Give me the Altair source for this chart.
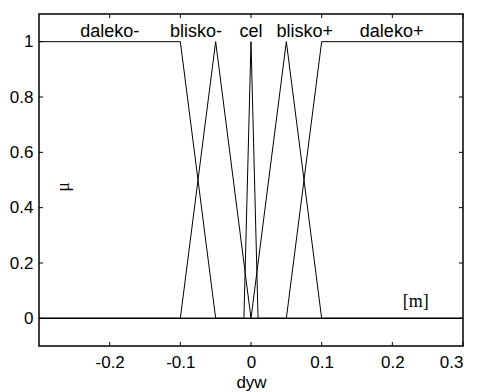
import altair as alt
import pandas as pd

# membership function vertices
x_daleko_minus = [-0.3, -0.1, -0.05, 0.3]
y_daleko_minus = [1, 1, 0, 0]
x_blisko_minus = [-0.3, -0.1, -0.05, 0.0, 0.3]
y_blisko_minus = [0, 0, 1, 0, 0]
x_cel = [-0.3, -0.01, 0.0, 0.01, 0.3]
y_cel = [0, 0, 1, 0, 0]
x_blisko_plus = [-0.3, 0.0, 0.05, 0.1, 0.3]
y_blisko_plus = [0, 0, 1, 0, 0]
x_daleko_plus = [-0.3, 0.05, 0.1, 0.3]
y_daleko_plus = [0, 0, 1, 1]

set_names = ["daleko-", "blisko-", "cel", "blisko+", "daleko+"]
label_x = [-0.2, -0.078, 0.0, 0.076, 0.199]
label_y = [1.018, 1.018, 1.018, 1.018, 1.018]

x_ticks = [-0.2, -0.1, 0, 0.1, 0.2, 0.3]
y_ticks = [0, 0.2, 0.4, 0.6, 0.8, 1]

W, H = 424, 332

rows = []
for name, xs, ys in [
    ("daleko-", x_daleko_minus, y_daleko_minus),
    ("blisko-", x_blisko_minus, y_blisko_minus),
    ("cel", x_cel, y_cel),
    ("blisko+", x_blisko_plus, y_blisko_plus),
    ("daleko+", x_daleko_plus, y_daleko_plus),
]:
    for i, (a, b) in enumerate(zip(xs, ys)):
        rows.append({"set": name, "x": a, "mu": b, "order": i})
df = pd.DataFrame(rows)

xscale = alt.Scale(domain=[-0.3, 0.3], nice=False, zero=False)
yscale = alt.Scale(domain=[-0.1, 1.1], nice=False, zero=False)
FONT = "Liberation Sans"

lines = alt.Chart(df).mark_line(color="black", strokeWidth=1).encode(
    x=alt.X("x:Q", scale=xscale,
            axis=alt.Axis(values=x_ticks, title="dyw", ticks=False, domain=False,
                          grid=False, labelFont=FONT, labelFontSize=17,
                          labelColor="black", labelPadding=8,
                          labelExpr="'' + datum.value",
                          titleFont=FONT, titleFontSize=17, titleFontWeight="normal",
                          titleColor="black", titlePadding=4)),
    y=alt.Y("mu:Q", scale=yscale,
            axis=alt.Axis(values=y_ticks, title=None, ticks=False, domain=False,
                          grid=False, labelFont=FONT, labelFontSize=17,
                          labelColor="black", labelPadding=6,
                          labelExpr="'' + datum.value")),
    detail="set:N",
    order="order:Q",
)

lab_df = pd.DataFrame({"name": set_names, "x": label_x, "y": label_y})
labels = alt.Chart(lab_df).mark_text(font=FONT, fontSize=18, color="black",
                                     baseline="alphabetic", align="center").encode(
    x=alt.X("x:Q", scale=xscale), y=alt.Y("y:Q", scale=yscale), text="name:N")

unit_df = pd.DataFrame({"t": ["[m]"], "x": [0.233], "y": [0.06]})
unit = alt.Chart(unit_df).mark_text(font="Liberation Serif", fontSize=18, color="black",
                                    baseline="middle", align="center").encode(
    x=alt.X("x:Q", scale=xscale), y=alt.Y("y:Q", scale=yscale), text="t:N")

mu_df = pd.DataFrame({"t": ["μ"], "x": [-0.265], "y": [0.475]})
mu = alt.Chart(mu_df).mark_text(font="Liberation Serif", fontSize=18, color="black",
                                baseline="middle", align="center", angle=270).encode(
    x=alt.X("x:Q", scale=xscale), y=alt.Y("y:Q", scale=yscale), text="t:N")

xt = pd.DataFrame({"v": x_ticks})
yt = pd.DataFrame({"v": y_ticks})
tb = alt.Chart(xt).mark_rule(color="black", strokeWidth=1).encode(
    x=alt.X("v:Q", scale=xscale), y=alt.value(H), y2=alt.value(H - 4))
tt = alt.Chart(xt).mark_rule(color="black", strokeWidth=1).encode(
    x=alt.X("v:Q", scale=xscale), y=alt.value(0), y2=alt.value(4))
tl = alt.Chart(yt).mark_rule(color="black", strokeWidth=1).encode(
    y=alt.Y("v:Q", scale=yscale), x=alt.value(0), x2=alt.value(4))
tr = alt.Chart(yt).mark_rule(color="black", strokeWidth=1).encode(
    y=alt.Y("v:Q", scale=yscale), x=alt.value(W), x2=alt.value(W - 4))

chart = alt.layer(lines, labels, unit, mu, tb, tt, tl, tr).properties(
    width=W, height=H,
    autosize=alt.AutoSizeParams(type="none"),
    padding={"left": 39, "top": 14, "right": 15, "bottom": 46},
    background="white",
).configure_view(stroke="black", strokeWidth=1.5)

chart.save("out.html", embed_options={"renderer": "svg", "actions": False})
